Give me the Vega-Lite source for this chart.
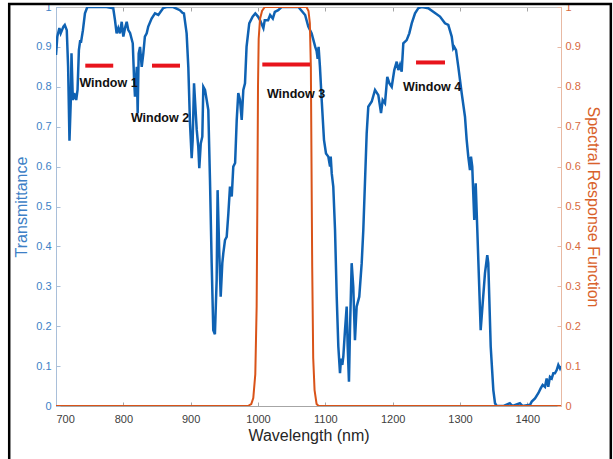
{
  "$schema": "https://vega.github.io/schema/vega-lite/v6.json",
  "width": 505,
  "height": 399,
  "autosize": "none",
  "padding": {"left": 56, "top": 7, "right": 52, "bottom": 53},
  "background": "white",
  "config": {
    "view": {"stroke": "#c4c4c4", "strokeWidth": 1},
    "font": "Liberation Sans",
    "axis": {"grid": false, "labelFont": "Liberation Sans", "titleFont": "Liberation Sans", "labelFontSize": 11, "titleFontSize": 16, "titleFontWeight": "normal", "tickSize": -4, "tickWidth": 1, "domainWidth": 1}
  },
  "datasets": {
    "transmittance": [
      {"w": 700, "t": 0.88}, {"w": 702, "t": 0.926}, {"w": 705, "t": 0.947}, {"w": 707, "t": 0.934}, {"w": 711, "t": 0.951},
      {"w": 713, "t": 0.955}, {"w": 716, "t": 0.942}, {"w": 718, "t": 0.85}, {"w": 720, "t": 0.665}, {"w": 722, "t": 0.767},
      {"w": 723, "t": 0.884}, {"w": 725, "t": 0.767}, {"w": 727, "t": 0.784}, {"w": 730, "t": 0.767}, {"w": 732, "t": 0.792},
      {"w": 734, "t": 0.892}, {"w": 736, "t": 0.917}, {"w": 737, "t": 0.91}, {"w": 740, "t": 0.942}, {"w": 743, "t": 0.984},
      {"w": 746.5, "t": 1.0}, {"w": 760, "t": 1.0}, {"w": 775, "t": 1.0}, {"w": 785, "t": 0.997}, {"w": 787.6, "t": 0.967},
      {"w": 790, "t": 0.934}, {"w": 792.5, "t": 0.947}, {"w": 795, "t": 0.934}, {"w": 797.6, "t": 0.963}, {"w": 800, "t": 0.926},
      {"w": 802.5, "t": 0.947}, {"w": 805, "t": 0.963}, {"w": 807.4, "t": 0.942}, {"w": 810, "t": 0.935}, {"w": 814, "t": 0.909},
      {"w": 816, "t": 0.817}, {"w": 817.3, "t": 0.775}, {"w": 820, "t": 0.85}, {"w": 821.3, "t": 0.734}, {"w": 822.8, "t": 0.884},
      {"w": 824.8, "t": 0.9}, {"w": 827.3, "t": 0.85}, {"w": 829.7, "t": 0.884}, {"w": 832, "t": 0.926}, {"w": 834.7, "t": 0.934},
      {"w": 837, "t": 0.951}, {"w": 842, "t": 0.971}, {"w": 847, "t": 0.984}, {"w": 852, "t": 0.98}, {"w": 859, "t": 0.997},
      {"w": 864, "t": 1.0}, {"w": 874, "t": 1.0}, {"w": 884, "t": 0.992}, {"w": 888, "t": 0.985}, {"w": 890, "t": 0.984},
      {"w": 894, "t": 0.934}, {"w": 896.5, "t": 0.85}, {"w": 899, "t": 0.709}, {"w": 901.5, "t": 0.621}, {"w": 903, "t": 0.667},
      {"w": 905, "t": 0.809}, {"w": 909, "t": 0.692}, {"w": 911.3, "t": 0.65}, {"w": 912.8, "t": 0.596}, {"w": 915, "t": 0.658},
      {"w": 917.3, "t": 0.675}, {"w": 918.8, "t": 0.8}, {"w": 921.3, "t": 0.792}, {"w": 923.8, "t": 0.767}, {"w": 926.2, "t": 0.742},
      {"w": 928.7, "t": 0.566}, {"w": 931.2, "t": 0.358}, {"w": 933.6, "t": 0.19}, {"w": 936, "t": 0.18}, {"w": 938.6, "t": 0.316},
      {"w": 940, "t": 0.541}, {"w": 942.5, "t": 0.383}, {"w": 944.6, "t": 0.274}, {"w": 947, "t": 0.358}, {"w": 948.5, "t": 0.383},
      {"w": 951, "t": 0.416}, {"w": 953.5, "t": 0.424}, {"w": 956, "t": 0.483}, {"w": 958.4, "t": 0.55}, {"w": 961, "t": 0.525},
      {"w": 963.3, "t": 0.6}, {"w": 966, "t": 0.609}, {"w": 968.4, "t": 0.717}, {"w": 970.7, "t": 0.784}, {"w": 973.3, "t": 0.767},
      {"w": 975.8, "t": 0.717}, {"w": 978.2, "t": 0.792}, {"w": 980.7, "t": 0.809}, {"w": 983, "t": 0.9}, {"w": 987, "t": 0.959},
      {"w": 992, "t": 0.976}, {"w": 996, "t": 0.984}, {"w": 1000, "t": 0.976}, {"w": 1003, "t": 0.967}, {"w": 1008, "t": 0.947},
      {"w": 1010, "t": 0.967}, {"w": 1015, "t": 0.967}, {"w": 1018, "t": 0.98}, {"w": 1022, "t": 0.971}, {"w": 1025, "t": 0.988},
      {"w": 1030, "t": 0.992}, {"w": 1035, "t": 1.0}, {"w": 1052, "t": 1.0}, {"w": 1060, "t": 1.0}, {"w": 1065, "t": 0.99},
      {"w": 1070, "t": 0.98}, {"w": 1074.7, "t": 0.951}, {"w": 1079.7, "t": 0.934}, {"w": 1085, "t": 0.9}, {"w": 1087, "t": 0.89},
      {"w": 1088.6, "t": 0.87}, {"w": 1090, "t": 0.9}, {"w": 1092, "t": 0.85}, {"w": 1094.6, "t": 0.767}, {"w": 1098, "t": 0.667},
      {"w": 1101, "t": 0.633}, {"w": 1104.4, "t": 0.625}, {"w": 1107, "t": 0.6}, {"w": 1108, "t": 0.625}, {"w": 1109.5, "t": 0.583},
      {"w": 1111.8, "t": 0.55}, {"w": 1114.4, "t": 0.441}, {"w": 1116.9, "t": 0.274}, {"w": 1119.3, "t": 0.149}, {"w": 1121.8, "t": 0.082},
      {"w": 1123.3, "t": 0.119}, {"w": 1125.2, "t": 0.103}, {"w": 1126.7, "t": 0.124}, {"w": 1129.2, "t": 0.19}, {"w": 1131.7, "t": 0.249},
      {"w": 1133.2, "t": 0.149}, {"w": 1135.1, "t": 0.061}, {"w": 1136.6, "t": 0.19}, {"w": 1139.1, "t": 0.358}, {"w": 1141.5, "t": 0.299},
      {"w": 1144, "t": 0.165}, {"w": 1146.5, "t": 0.249}, {"w": 1150.4, "t": 0.274}, {"w": 1154, "t": 0.358}, {"w": 1156.4, "t": 0.441},
      {"w": 1161.4, "t": 0.683}, {"w": 1163.8, "t": 0.75}, {"w": 1168.9, "t": 0.763}, {"w": 1173.8, "t": 0.792}, {"w": 1178.7, "t": 0.779},
      {"w": 1182.7, "t": 0.734}, {"w": 1185.2, "t": 0.767}, {"w": 1188.6, "t": 0.759}, {"w": 1192, "t": 0.825}, {"w": 1195, "t": 0.809},
      {"w": 1198.6, "t": 0.8}, {"w": 1202.4, "t": 0.842}, {"w": 1206, "t": 0.863}, {"w": 1208.4, "t": 0.842}, {"w": 1210.9, "t": 0.855},
      {"w": 1213.4, "t": 0.838}, {"w": 1215.8, "t": 0.909}, {"w": 1220.8, "t": 0.917}, {"w": 1224.7, "t": 0.934}, {"w": 1228.3, "t": 0.959},
      {"w": 1233.2, "t": 0.984}, {"w": 1238.1, "t": 0.997}, {"w": 1243.1, "t": 1.0}, {"w": 1252.9, "t": 0.997}, {"w": 1260.3, "t": 0.988},
      {"w": 1270.3, "t": 0.976}, {"w": 1277.7, "t": 0.959}, {"w": 1282.6, "t": 0.955}, {"w": 1287.7, "t": 0.926}, {"w": 1290, "t": 0.896},
      {"w": 1291.5, "t": 0.9}, {"w": 1294.1, "t": 0.892}, {"w": 1297.5, "t": 0.85}, {"w": 1302.5, "t": 0.784}, {"w": 1307.4, "t": 0.725},
      {"w": 1309.9, "t": 0.667}, {"w": 1312.3, "t": 0.625}, {"w": 1314.8, "t": 0.591}, {"w": 1316.3, "t": 0.625}, {"w": 1318.2, "t": 0.6},
      {"w": 1319.7, "t": 0.533}, {"w": 1321.2, "t": 0.466}, {"w": 1323.3, "t": 0.558}, {"w": 1325.7, "t": 0.441}, {"w": 1328.2, "t": 0.316},
      {"w": 1330.7, "t": 0.19}, {"w": 1333.7, "t": 0.257}, {"w": 1337.1, "t": 0.333}, {"w": 1340.5, "t": 0.378}, {"w": 1342, "t": 0.358},
      {"w": 1345.6, "t": 0.149}, {"w": 1349.5, "t": 0.04}, {"w": 1352, "t": 0.007}, {"w": 1354.5, "t": 0.0}, {"w": 1365, "t": 0.0},
      {"w": 1374, "t": 0.007}, {"w": 1378, "t": 0.0}, {"w": 1389, "t": 0.007}, {"w": 1393, "t": 0.0}, {"w": 1404, "t": 0.003},
      {"w": 1406.5, "t": 0.011}, {"w": 1411.4, "t": 0.019}, {"w": 1416.3, "t": 0.032}, {"w": 1419.8, "t": 0.044}, {"w": 1422.8, "t": 0.053},
      {"w": 1426.2, "t": 0.048}, {"w": 1428.7, "t": 0.069}, {"w": 1431.1, "t": 0.048}, {"w": 1433.6, "t": 0.073}, {"w": 1436.2, "t": 0.069},
      {"w": 1438.6, "t": 0.082}, {"w": 1441, "t": 0.082}, {"w": 1443.6, "t": 0.09}, {"w": 1446, "t": 0.103}, {"w": 1448.5, "t": 0.094},
      {"w": 1450, "t": 0.1}
    ],
    "srf": [
      {"w": 700, "s": 0}, {"w": 985, "s": 0}, {"w": 990, "s": 0.005}, {"w": 993, "s": 0.02}, {"w": 996, "s": 0.08},
      {"w": 998, "s": 0.25}, {"w": 999, "s": 0.5}, {"w": 1000, "s": 0.8}, {"w": 1001, "s": 0.92}, {"w": 1003, "s": 0.97},
      {"w": 1006, "s": 0.99}, {"w": 1010, "s": 1}, {"w": 1072, "s": 1}, {"w": 1075, "s": 0.99}, {"w": 1077, "s": 0.96},
      {"w": 1078.5, "s": 0.85}, {"w": 1079.5, "s": 0.6}, {"w": 1080.5, "s": 0.35}, {"w": 1082, "s": 0.12}, {"w": 1084, "s": 0.04},
      {"w": 1087, "s": 0.005}, {"w": 1090, "s": 0}, {"w": 1450, "s": 0}
    ],
    "windows": [
      {"name": "Window 1", "x1": 743.5, "x2": 785, "y": 0.853, "lx": 778, "ly": 0.809},
      {"name": "Window 2", "x1": 842.6, "x2": 884.2, "y": 0.853, "lx": 854.5, "ly": 0.721},
      {"name": "Window 3", "x1": 1006.4, "x2": 1077.2, "y": 0.856, "lx": 1056.5, "ly": 0.783},
      {"name": "Window 4", "x1": 1234.7, "x2": 1277.7, "y": 0.861, "lx": 1258.5, "ly": 0.799}
    ]
  },
  "layer": [
    {
      "data": {"name": "transmittance"},
      "mark": {"type": "line", "color": "#0f62b3", "strokeWidth": 2.5, "clip": true},
      "encoding": {
        "x": {"field": "w", "type": "quantitative", "scale": {"domain": [700, 1450], "nice": false},
          "axis": {"orient": "bottom", "title": "Wavelength (nm)", "format": "d", "values": [700, 800, 900, 1000, 1100, 1200, 1300, 1400], "domainColor": "#a6a6a6", "tickColor": "#a6a6a6", "labelColor": "#404040", "titleColor": "#262626", "labelPadding": 11, "titlePadding": 3}},
        "y": {"field": "t", "type": "quantitative", "scale": {"domain": [0, 1], "nice": false},
          "axis": {"orient": "left", "title": "Transmittance", "values": [0, 0.1, 0.2, 0.3, 0.4, 0.5, 0.6, 0.7, 0.8, 0.9, 1], "format": "~g", "domainColor": "#a9bfd9", "tickColor": "#a9bfd9", "labelColor": "#3d7fc6", "titleColor": "#3d7fc6", "labelPadding": 9, "titlePadding": 6}}
      }
    },
    {
      "data": {"name": "srf"},
      "mark": {"type": "line", "color": "#d95319", "strokeWidth": 2, "clip": true},
      "encoding": {
        "x": {"field": "w", "type": "quantitative", "scale": {"domain": [700, 1450], "nice": false},
          "axis": {"orient": "top", "title": null, "labels": false, "values": [700, 800, 900, 1000, 1100, 1200, 1300, 1400], "domainColor": "#c4c4c4", "tickColor": "#a6a6a6"}},
        "y": {"field": "s", "type": "quantitative", "scale": {"domain": [0, 1], "nice": false},
          "axis": {"orient": "right", "title": "Spectral Response Function", "values": [0, 0.1, 0.2, 0.3, 0.4, 0.5, 0.6, 0.7, 0.8, 0.9, 1], "format": "~g", "domainColor": "#e8b9a3", "tickColor": "#e8b9a3", "labelColor": "#d8693c", "titleColor": "#d9622b", "labelPadding": 8, "titlePadding": 4}}
      }
    },
    {
      "data": {"name": "windows"},
      "mark": {"type": "rule", "color": "#e8141c", "strokeWidth": 4},
      "encoding": {
        "x": {"field": "x1", "type": "quantitative", "scale": {"domain": [700, 1450], "nice": false}, "axis": null},
        "x2": {"field": "x2"},
        "y": {"field": "y", "type": "quantitative", "scale": {"domain": [0, 1], "nice": false}, "axis": null}
      }
    },
    {
      "data": {"name": "windows"},
      "mark": {"type": "text", "font": "Liberation Sans", "fontWeight": "bold", "fontSize": 12.5, "color": "#111111", "align": "center", "baseline": "middle"},
      "encoding": {
        "x": {"field": "lx", "type": "quantitative", "scale": {"domain": [700, 1450], "nice": false}, "axis": null},
        "y": {"field": "ly", "type": "quantitative", "scale": {"domain": [0, 1], "nice": false}, "axis": null},
        "text": {"field": "name"}
      }
    },
    {
      "data": {"values": [{}]},
      "mark": {"type": "rect", "fill": null, "stroke": "#000000", "strokeWidth": 2.5, "clip": false},
      "encoding": {
        "x": {"datum": 630.5, "type": "quantitative", "scale": {"domain": [700, 1450], "nice": false}, "axis": null},
        "x2": {"datum": 1524},
        "y": {"datum": 1.0075, "type": "quantitative", "scale": {"domain": [0, 1], "nice": false}, "axis": null},
        "y2": {"datum": -0.3}
      }
    }
  ],
  "resolve": {"scale": {"y": "independent"}, "axis": {"x": "independent", "y": "independent"}}
}
